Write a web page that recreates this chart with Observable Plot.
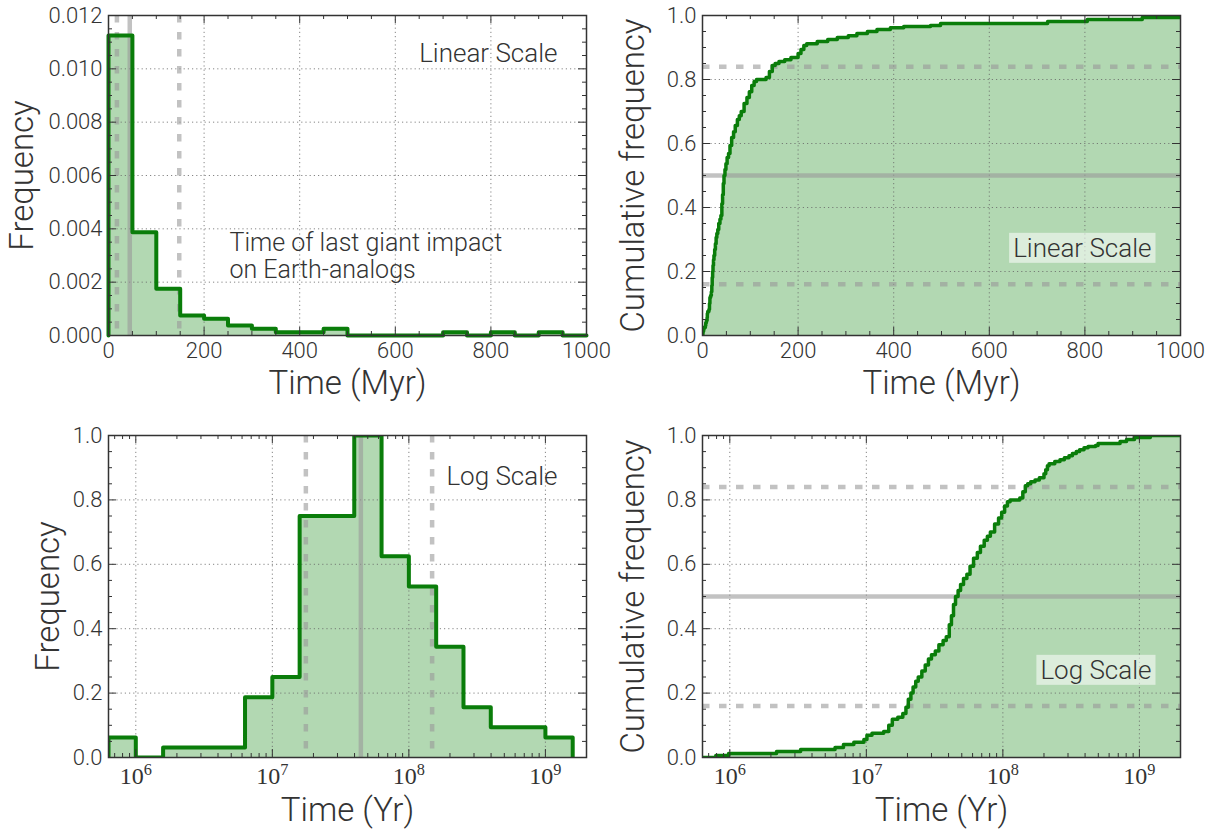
<!DOCTYPE html>
<html><head><meta charset="utf-8">
<script src="https://cdn.jsdelivr.net/npm/d3@7"></script>
<script src="https://cdn.jsdelivr.net/npm/@observablehq/plot@0.6"></script>
<style>
body{margin:0;background:#fff;}
#chart{position:relative;width:1209px;height:835px;overflow:hidden;}
.panel{position:absolute;}
</style></head><body><div id="chart"></div>
<script>
// ---------------- data ----------------
// linear histogram (Myr), bin edges and normalised frequency
const linEdges = [0,50,100,150,200,250,300,350,400,450,500,550,600,650,700,750,800,850,900,950,1000];
const linFreq  = [0.01125,0.003875,0.00175,0.00075,0.000625,0.000375,0.00025,0.000125,0.000125,0.00025,0,0,0,0,0.000125,0,0.000125,0,0.000125,0];
// log histogram (Yr), bin edges as powers of ten, frequency scaled to max = 1
const logEdgeExp = [5.8,6.0,6.2,6.4,6.6,6.8,7.0,7.2,7.4,7.6,7.8,8.0,8.2,8.4,8.6,8.8,9.0,9.2];
const logFreq    = [0.0625,0,0.03125,0.03125,0.03125,0.1875,0.25,0.75,0.75,1.0,0.625,0.53125,0.34375,0.15625,0.09375,0.09375,0.0625];
// cumulative distribution: [time (Myr), cumulative frequency after the step]
const cdfSteps = [
  [0.63,0],[0.79,0.006],[0.98,0.0125],[2.2,0.019],[3.3,0.025],[5.9,0.031],[6.8,0.04],[8.1,0.047],[9.6,0.056],[10.1,0.069],
  [11.0,0.075],[13.4,0.081],[14.6,0.1],[15.5,0.119],[17.0,0.125],[18.5,0.137],[19.5,0.156],[20.3,0.181],[21.2,0.2],[22.0,0.219],
  [23.0,0.237],[24.0,0.25],[25.5,0.269],[27.0,0.287],[28.5,0.306],[30.0,0.319],[32.0,0.331],[34.0,0.35],[36.5,0.363],[38.5,0.375],
  [40.5,0.412],[42.0,0.44],[43.5,0.475],[45.0,0.5],[47.0,0.519],[49.0,0.537],[51.5,0.556],[54.5,0.569],[57.5,0.594],[61.0,0.619],
  [65.0,0.637],[68.5,0.656],[73.0,0.675],[77.0,0.687],[81.0,0.7],[87.0,0.725],[93.0,0.744],[98.0,0.762],[103.0,0.781],[108.0,0.794],
  [113.0,0.8],[133.0,0.806],[140.0,0.825],[146.0,0.844],[152.0,0.85],[160.0,0.856],[172.0,0.862],[185.0,0.869],[200.0,0.881],[206.0,0.894],
  [212.0,0.906],[218.0,0.912],[240.0,0.919],[262.0,0.925],[282.0,0.931],[305.0,0.937],[323.0,0.944],[345.0,0.95],[365.0,0.956],[393.0,0.962],
  [421.0,0.966],[477.0,0.969],[498.0,0.975],[722.0,0.981],[805.0,0.9875],[920.0,0.994],[1202.0,1.0]
];
// percentiles (Myr): 16th, median, 84th
const pctTime = [17.6, 44.5, 148];
const pctStyle = ["dashed","solid","dashed"];
const cdfLevels = [0.16, 0.5, 0.84];
const levelStyle = ["dashed","solid","dashed"];
// ticks
const linXTicks = [0,200,400,600,800,1000];
const freqTicks = [0,0.002,0.004,0.006,0.008,0.010,0.012];
const unitTicks = [0,0.2,0.4,0.6,0.8,1.0];
const logXTicks = [1e6,1e7,1e8,1e9];
const logDomain = [Math.pow(10,5.8), 2e9];
const annotLines = ["Time of last giant impact", "on Earth-analogs"];

// ---------------- style ----------------
const FONT = "Roboto, 'Helvetica Neue', 'Liberation Sans', Arial, sans-serif";
const GREEN = "#0a7d0a", FILL = "#b2d8b2", RULE = "#999", FRAME = "#333", TXT = "#333";
const TICK_FS = 22, ANN_FS = 26, LAB_FS = 33;

function stepPts(edges, vals) {
  const p = [{x: edges[0], y: 0}];
  vals.forEach((v, i) => p.push({x: edges[i], y: v}));
  p.push({x: edges[edges.length - 1], y: vals[vals.length - 1]});
  p.push({x: edges[edges.length - 1], y: 0});
  return p;
}
function minorTicks(majors, step, domain) {
  return d3.range(domain[0], domain[1] + step / 2, step).filter(v => !majors.some(m => Math.abs(m - v) < step / 10));
}
function logMinor(domain) {
  const out = [];
  for (let e = 5; e <= 9; e++) for (let k = 2; k <= 9; k++) { const v = k * Math.pow(10, e); if (v > domain[0] && v < domain[1]) out.push(v); }
  return out;
}
function tickMarks(xMaj, xMin, yMaj, yMin, W, H) {
  const s = {stroke: FRAME, strokeWidth: 1};
  return [
    Plot.tickX(xMaj, {x: d => d, insetTop: H - 8, ...s}),
    Plot.tickX(xMaj, {x: d => d, insetBottom: H - 8, ...s}),
    Plot.tickX(xMin, {x: d => d, insetTop: H - 4, ...s}),
    Plot.tickX(xMin, {x: d => d, insetBottom: H - 4, ...s}),
    Plot.tickY(yMaj, {y: d => d, insetRight: W - 8, ...s}),
    Plot.tickY(yMaj, {y: d => d, insetLeft: W - 8, ...s}),
    Plot.tickY(yMin, {y: d => d, insetRight: W - 4, ...s}),
    Plot.tickY(yMin, {y: d => d, insetLeft: W - 4, ...s})
  ];
}
function grids(xMaj, yMaj) {
  const g = {stroke: "#666", strokeOpacity: 0.8, strokeWidth: 1, strokeDasharray: "1.2,3"};
  return [Plot.gridX({ticks: xMaj, ...g}), Plot.gridY({ticks: yMaj, ...g})];
}
function axes(xMaj, xFmt, yMaj, yFmt, log) {
  return [
    Plot.axisX({ticks: xMaj, tickFormat: xFmt, anchor: "bottom", tickSize: 0, tickPadding: log ? 9 : 7, label: null,
      fontSize: log ? 24 : TICK_FS, fontFamily: log ? "'Liberation Serif', 'DejaVu Serif', serif" : FONT, fontWeight: log ? 400 : 300, fill: TXT}),
    Plot.axisY({ticks: yMaj, tickFormat: yFmt, anchor: "left", tickSize: 0, tickPadding: 6, label: null,
      fontSize: TICK_FS, fontFamily: FONT, fontWeight: 300, fill: TXT})
  ];
}
function axisLabels(xl, yl, ydx, xdy) {
  return [
    Plot.text([xl], {text: d => d, frameAnchor: "bottom", dy: xdy, textAnchor: "middle", lineAnchor: "middle", fontSize: LAB_FS, fontWeight: 300, fill: TXT}),
    Plot.text([yl], {text: d => d, frameAnchor: "left", dx: ydx, rotate: -90, textAnchor: "middle", lineAnchor: "middle", fontSize: LAB_FS, fontWeight: 300, fill: TXT})
  ];
}
const ruleStyle = s => ({stroke: RULE, strokeOpacity: 0.6, strokeWidth: 4.5, strokeDasharray: s === "dashed" ? "7.5,9.5" : null});

const chart = document.getElementById("chart");
function place(svg, left, top, boxed) {
  const d = document.createElement("div");
  d.className = "panel"; d.style.left = left + "px"; d.style.top = top + "px";
  if (boxed) d.dataset.boxed = boxed;
  d.appendChild(svg); chart.appendChild(d); return svg;
}
const baseStyle = {overflow: "visible", background: "transparent", fontFamily: FONT};

// ---------- top-left: linear histogram ----------
{
  const W = 478, H = 320;
  const pts = stepPts(linEdges, linFreq);
  const annot = {frameAnchor: "top-left", dx: 121, textAnchor: "start", lineAnchor: "middle", fontSize: 25, fontWeight: 300, fill: TXT};
  const svg = Plot.plot({
    width: 604, height: 417, marginLeft: 108, marginRight: 18, marginTop: 15, marginBottom: 82,
    style: baseStyle,
    x: {domain: [0, 1000]}, y: {domain: [0, 0.012]},
    marks: [
      Plot.areaY(pts, {x: "x", y: "y", curve: "step-after", fill: FILL}),
      ...grids(linXTicks, freqTicks),
      ...pctTime.map((t, i) => Plot.ruleX([t], {x: d => d, ...ruleStyle(pctStyle[i])})),
      Plot.line(pts, {x: "x", y: "y", curve: "step-after", stroke: GREEN, strokeWidth: 4}),
      ...tickMarks(linXTicks, minorTicks(linXTicks, 50, [0, 1000]), freqTicks, minorTicks(freqTicks, 0.0005, [0, 0.012]), W, H),
      Plot.frame({stroke: FRAME, strokeWidth: 1.5}),
      ...axes(linXTicks, d3.format("d"), freqTicks, d3.format(".3f")),
      ...axisLabels("Time (Myr)", "Frequency", -86, 48),
      Plot.text(["Linear Scale"], {text: d => d, frameAnchor: "top-right", dx: -29, dy: 38, textAnchor: "end", lineAnchor: "middle", fontSize: ANN_FS, fontWeight: 300, fill: TXT}),
      Plot.text([annotLines[0]], {text: d => d, dy: 227, ...annot}),
      Plot.text([annotLines[1]], {text: d => d, dy: 254, ...annot})
    ]
  });
  place(svg, 0, 0);
}

// ---------- cumulative data ----------
function cdfRows(scale, xmax) {
  const rows = cdfSteps.map(([t, f]) => ({t: t * scale, f}));
  rows.push({t: xmax, f: cdfSteps[cdfSteps.length - 1][1]});
  return rows;
}

// ---------- top-right: linear cumulative ----------
{
  const W = 478, H = 320;
  const rows = cdfRows(1, 2000);
  const svg = Plot.plot({
    width: 605, height: 417, marginLeft: 98, marginRight: 29, marginTop: 15, marginBottom: 82,
    style: baseStyle,
    x: {domain: [0, 1000]}, y: {domain: [0, 1]},
    marks: [
      Plot.areaY(rows, {x: "t", y: "f", curve: "step-after", fill: FILL, clip: true}),
      ...grids(linXTicks, unitTicks),
      ...cdfLevels.map((l, i) => Plot.ruleY([l], {y: d => d, ...ruleStyle(levelStyle[i])})),
      Plot.line(rows, {x: "t", y: "f", curve: "step-after", stroke: GREEN, strokeWidth: 3.5, clip: true}),
      ...tickMarks(linXTicks, minorTicks(linXTicks, 50, [0, 1000]), unitTicks, minorTicks(unitTicks, 0.05, [0, 1]), W, H),
      Plot.frame({stroke: FRAME, strokeWidth: 1.5}),
      ...axes(linXTicks, d3.format("d"), unitTicks, d3.format(".1f")),
      ...axisLabels("Time (Myr)", "Cumulative frequency", -69, 48),
      Plot.text(["Linear Scale"], {text: d => d, frameAnchor: "bottom-right", dx: -29, dy: -87, textAnchor: "end", lineAnchor: "middle", fontSize: ANN_FS, fontWeight: 300, fill: TXT})
    ]
  });
  place(svg, 604, 0, "Linear Scale");
}

const logFmt = d => "10^" + Math.round(Math.log10(d));

// ---------- bottom-left: log histogram ----------
{
  const W = 478, H = 322;
  const edges = logEdgeExp.map(e => Math.pow(10, e));
  const pts = stepPts(edges, logFreq);
  const svg = Plot.plot({
    width: 604, height: 418, marginLeft: 108, marginRight: 18, marginTop: 18, marginBottom: 78,
    style: baseStyle,
    x: {type: "log", domain: logDomain}, y: {domain: [0, 1]},
    marks: [
      Plot.areaY(pts, {x: "x", y: "y", curve: "step-after", fill: FILL, clip: true}),
      ...grids(logXTicks, unitTicks),
      ...pctTime.map((t, i) => Plot.ruleX([t * 1e6], {x: d => d, ...ruleStyle(pctStyle[i])})),
      Plot.line(pts, {x: "x", y: "y", curve: "step-after", stroke: GREEN, strokeWidth: 4, clip: true}),
      ...tickMarks(logXTicks, logMinor(logDomain), unitTicks, minorTicks(unitTicks, 0.05, [0, 1]), W, H),
      Plot.frame({stroke: FRAME, strokeWidth: 1.5}),
      ...axes(logXTicks, logFmt, unitTicks, d3.format(".1f"), true),
      ...axisLabels("Time (Yr)", "Frequency", -60, 53),
      Plot.text(["Log Scale"], {text: d => d, frameAnchor: "top-right", dx: -29, dy: 41, textAnchor: "end", lineAnchor: "middle", fontSize: ANN_FS, fontWeight: 300, fill: TXT})
    ]
  });
  place(svg, 0, 417);
}

// ---------- bottom-right: log cumulative ----------
{
  const W = 478, H = 322;
  const rows = cdfRows(1e6, logDomain[1]);
  const svg = Plot.plot({
    width: 605, height: 418, marginLeft: 98, marginRight: 29, marginTop: 18, marginBottom: 78,
    style: baseStyle,
    x: {type: "log", domain: logDomain}, y: {domain: [0, 1]},
    marks: [
      Plot.areaY(rows, {x: "t", y: "f", curve: "step-after", fill: FILL, clip: true}),
      ...grids(logXTicks, unitTicks),
      ...cdfLevels.map((l, i) => Plot.ruleY([l], {y: d => d, ...ruleStyle(levelStyle[i])})),
      Plot.line(rows, {x: "t", y: "f", curve: "step-after", stroke: GREEN, strokeWidth: 3.5, clip: true}),
      ...tickMarks(logXTicks, logMinor(logDomain), unitTicks, minorTicks(unitTicks, 0.05, [0, 1]), W, H),
      Plot.frame({stroke: FRAME, strokeWidth: 1.5}),
      ...axes(logXTicks, logFmt, unitTicks, d3.format(".1f"), true),
      ...axisLabels("Time (Yr)", "Cumulative frequency", -69, 53),
      Plot.text(["Log Scale"], {text: d => d, frameAnchor: "bottom-right", dx: -29, dy: -87, textAnchor: "end", lineAnchor: "middle", fontSize: ANN_FS, fontWeight: 300, fill: TXT})
    ]
  });
  place(svg, 604, 417, "Log Scale");
}

// ---------- post-processing: superscripts and label boxes ----------
const NS = "http://www.w3.org/2000/svg";
chart.querySelectorAll("text").forEach(t => {
  const s = t.textContent;
  if (/^10\^\d$/.test(s)) {
    const parts = s.split("^");
    t.textContent = parts[0];
    const ts = document.createElementNS(NS, "tspan");
    ts.setAttribute("dy", "-0.5em"); ts.setAttribute("font-size", "0.68em");
    ts.textContent = parts[1];
    t.appendChild(ts);
  }
});
chart.querySelectorAll("div[data-boxed]").forEach(div => {
  const label = div.dataset.boxed;
  div.querySelectorAll("text").forEach(t => {
    if (t.textContent !== label) return;
    const b = t.getBBox();
    const r = document.createElementNS(NS, "rect");
    r.setAttribute("x", b.x - 4); r.setAttribute("y", b.y);
    r.setAttribute("width", b.width + 8); r.setAttribute("height", b.height);
    r.setAttribute("fill", "white"); r.setAttribute("fill-opacity", "0.55");
    if (t.getAttribute("transform")) r.setAttribute("transform", t.getAttribute("transform"));
    t.parentNode.insertBefore(r, t);
  });
});
</script></body></html>
